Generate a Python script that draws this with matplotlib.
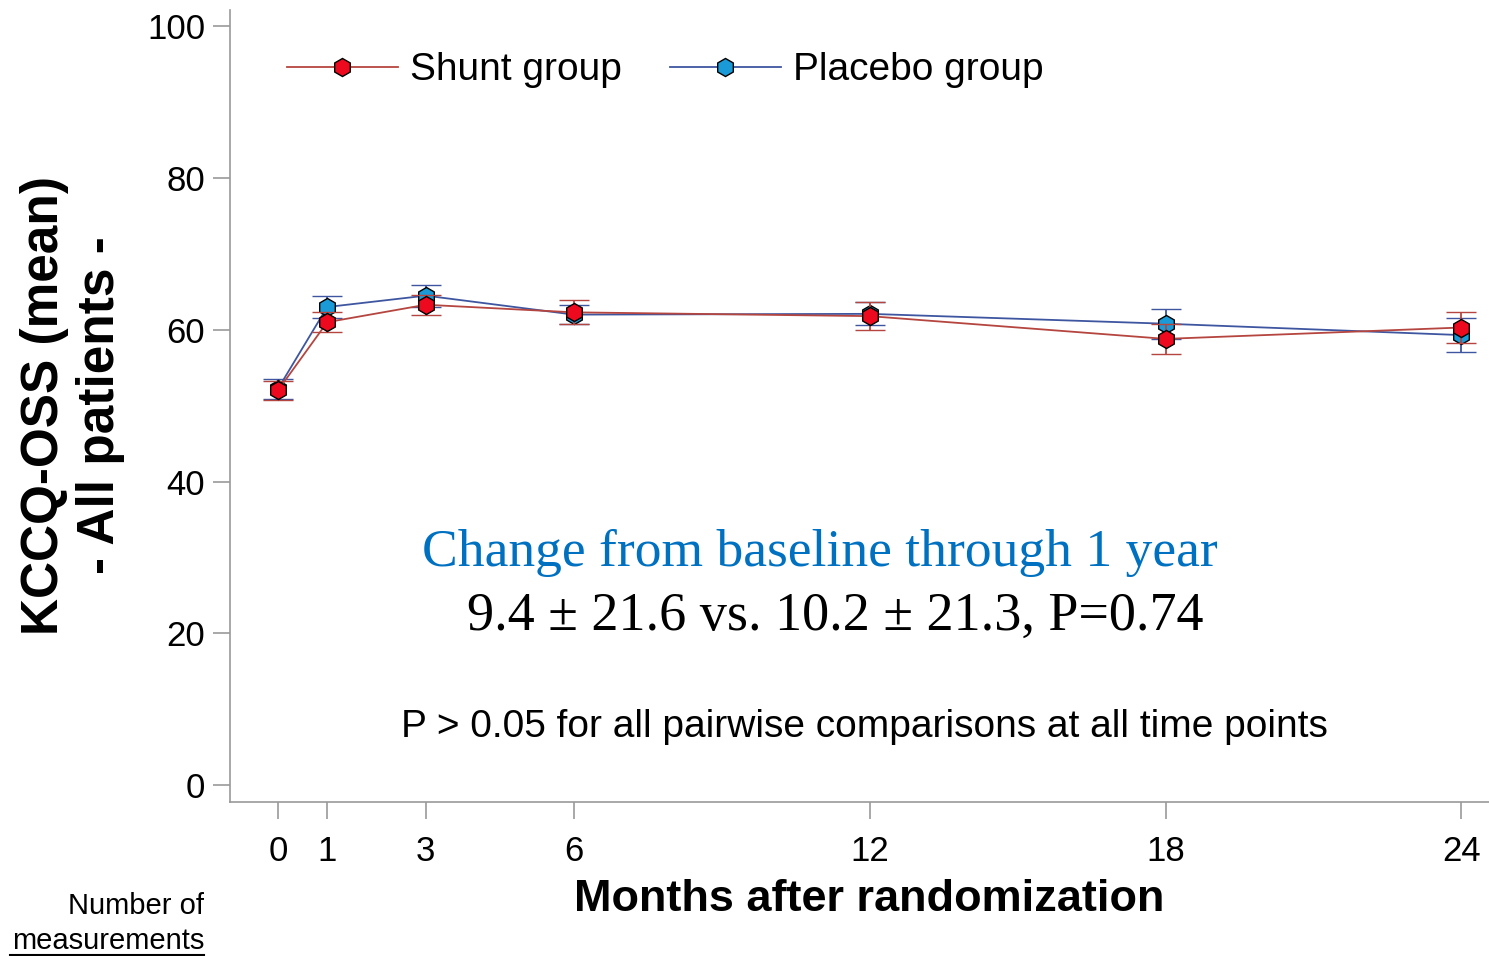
import numpy as np
import matplotlib
matplotlib.use("Agg")
import matplotlib.pyplot as plt
from matplotlib.lines import Line2D

# data
months = [0, 1, 3, 6, 12, 18, 24]
shunt_mean = [52.0, 61.0, 63.3, 62.3, 61.8, 58.8, 60.3]
shunt_err = [1.3, 1.3, 1.3, 1.6, 1.8, 2.0, 2.0]
placebo_mean = [52.2, 63.0, 64.5, 62.0, 62.1, 60.8, 59.3]
placebo_err = [1.3, 1.5, 1.45, 1.3, 1.5, 2.0, 2.2]
y_ticks = [0, 20, 40, 60, 80, 100]

plt.rcParams['font.family'] = ['Liberation Sans', 'DejaVu Sans']

fig = plt.figure(figsize=(14.89, 9.56), dpi=100)
ax = fig.add_axes([0.1545, 0.161, 0.8455, 0.829])

# Shunt group
ax.errorbar(months, shunt_mean, yerr=shunt_err, color="#B5453F", lw=1.3,
            capsize=11, capthick=1.3, elinewidth=1.3, marker="h",
            markersize=13, markerfacecolor="#EE0A1E", markeredgecolor="black",
            markeredgewidth=1.0, zorder=3)
# Placebo group
ax.errorbar(months, placebo_mean, yerr=placebo_err, color="#3E56A0", lw=1.3,
            capsize=11, capthick=1.3, elinewidth=1.3, marker="h",
            markersize=13, markerfacecolor="#1A9AD6", markeredgecolor="black",
            markeredgewidth=1.0, zorder=2)

ax.set_xlim(-0.97, 24.56)
ax.set_ylim(-2.24, 102.2)
ax.set_xticks(months)
ax.set_yticks(y_ticks)
ax.tick_params(axis="both", labelsize=25, length=12, width=1.2,
               color="#999999", direction="out")
ax.tick_params(axis="x", pad=12)
ax.tick_params(axis="y", pad=6)
for s in ["top", "right"]:
    ax.spines[s].set_visible(False)
for s in ["left", "bottom"]:
    ax.spines[s].set_color("#999999")
    ax.spines[s].set_linewidth(1.2)

ax.set_xlabel("Months after randomization", fontsize=32.5, fontweight="bold")
ax.xaxis.set_label_coords(0.5 + 10 / 1259, -0.097)

# y label, two lines placed by hand
fig.text(0.030, 0.576, "KCCQ-OSS (mean)", rotation=90, ha="center",
         va="center", fontsize=37, fontweight="bold")
fig.text(0.0675, 0.576, "- All patients -", rotation=90, ha="center",
         va="center", fontsize=37, fontweight="bold")

# legend
handles = [
    Line2D([], [], color="#B5453F", lw=1.3, marker="h", markersize=13,
           markerfacecolor="#EE0A1E", markeredgecolor="black"),
    Line2D([], [], color="#3E56A0", lw=1.3, marker="h", markersize=13,
           markerfacecolor="#1A9AD6", markeredgecolor="black"),
]
ax.legend(handles, ["Shunt group", "Placebo group"], loc="upper left",
          bbox_to_anchor=(0.0175, 0.99), ncol=2, frameon=False, fontsize=28,
          handlelength=2.85, handletextpad=0.3, columnspacing=1.25)

# annotations
ax.text(11.0, 30.6, "Change from baseline through 1 year",
        ha="center", va="center", fontsize=38.5,
        color="#0070C0", family="Liberation Serif")
ax.text(11.3, 22.2, "9.4 \u00b1 21.6 vs. 10.2 \u00b1 21.3, P=0.74",
        ha="center", va="center", fontsize=39,
        color="black", family="Liberation Serif")
ax.text(11.9, 7.65, "P > 0.05 for all pairwise comparisons at all time points",
        ha="center", va="center", fontsize=28)

fig.text(0.137, 0.052, "Number of", ha="right", va="center", fontsize=21)
fig.text(0.137, 0.016, "measurements", ha="right", va="center", fontsize=21)
fig.add_artist(Line2D([0.007, 0.137], [0.0015, 0.0015], color="black", lw=1.5,
                      transform=fig.transFigure))

fig.savefig("out.png", dpi=100)
